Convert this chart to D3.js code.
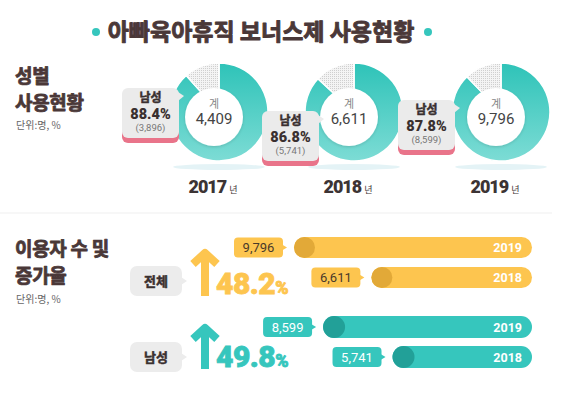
<!DOCTYPE html>
<html>
<head>
<meta charset="utf-8">
<script src="https://cdn.jsdelivr.net/npm/d3@7"></script>
<style>
  body { margin: 0; background: #fff; }
  svg { display: block; font-family: "Noto Sans CJK KR", sans-serif; }
</style>
</head>
<body>
<script>
// data
const years = ['2017', '2018', '2019'];
const totals = [4409, 6611, 9796];
const maleCounts = [3896, 5741, 8599];
const maleShares = [88.4, 86.8, 87.8];

const groupLabels = ['전체', '남성'];
const growthRates = [48.2, 49.8];
const barYears = ['2019', '2018'];
const totalBars = [9796, 6611];
const maleBars = [8599, 5741];

const width = 567, height = 396;
const brown = '#4a3838';
const teal = '#36c6bd', tealDark = '#22a098';
const yellow = '#fdc54f', yellowDark = '#e2a938';

const svg = d3.select('body').append('svg')
  .attr('width', width)
  .attr('height', height);

const defs = svg.append('defs');
const grad = defs.append('linearGradient').attr('id', 'ring')
  .attr('x1', 0).attr('y1', 0).attr('x2', 0).attr('y2', 1);
grad.append('stop').attr('offset', '0%').attr('stop-color', '#2ec3b8');
grad.append('stop').attr('offset', '100%').attr('stop-color', '#7ddcd5');

const pat = defs.append('pattern').attr('id', 'dots')
  .attr('width', 2).attr('height', 2).attr('patternUnits', 'userSpaceOnUse');
pat.append('rect').attr('width', 2).attr('height', 2).attr('fill', '#f4f4f4');
pat.append('rect').attr('width', 1).attr('height', 1).attr('fill', '#cfcfcf');

const shadow = defs.append('filter').attr('id', 'soft')
  .attr('x', '-30%').attr('y', '-30%').attr('width', '160%').attr('height', '160%');
shadow.append('feDropShadow').attr('dx', 0).attr('dy', 1).attr('stdDeviation', 1.5)
  .attr('flood-color', '#000').attr('flood-opacity', 0.15);

// heavy text helper (fake a black weight with a thin stroke)
const heavy = (sel, color, w) => sel.attr('font-weight', 'bold').attr('fill', color)
  .attr('stroke', color).attr('stroke-width', w).attr('stroke-linejoin', 'round');

// title
heavy(svg.append('text')
  .attr('x', 261).attr('y', 40)
  .attr('text-anchor', 'middle')
  .attr('font-size', 23), brown, 0.9)
  .text('아빠육아휴직 보너스제 사용현황');
svg.selectAll('.tdot').data([96, 428]).enter().append('circle')
  .attr('cx', d => d).attr('cy', 32).attr('r', 4).attr('fill', teal);

// left headings
function heading(lines, y0, gap, noteY) {
  lines.forEach((t, i) => {
    heavy(svg.append('text').attr('x', 15).attr('y', y0 + i * gap)
      .attr('font-size', 19).attr('letter-spacing', -0.3), brown, 0.8)
      .text(t);
  });
  svg.append('text').attr('x', 16).attr('y', noteY)
    .attr('font-size', 10).attr('fill', '#666').text('단위:명, %');
}
heading(['성별', '사용현황'], 83, 27, 129);
heading(['이용자 수 및', '증가율'], 256, 27, 303);

// divider
svg.append('line').attr('x1', 0).attr('x2', 552).attr('y1', 213).attr('y2', 213)
  .attr('stroke', '#efefef').attr('stroke-width', 1);

// donuts
const cx = d3.scaleOrdinal().domain(years).range([219, 354, 501]);
const cy = 112, R = 49;
const pie = d3.pie().sort(null).value(d => d);
const arc = d3.arc().innerRadius(0).outerRadius(R);
const calloutPos = [[122, 88], [262, 111], [398, 100]];

years.forEach((yr, i) => {
  const g = svg.append('g').attr('transform', `translate(${cx(yr)},${cy})`);
  g.append('ellipse').attr('cx', 0).attr('cy', 55).attr('rx', 46).attr('ry', 3)
    .attr('fill', '#e4f3f6');
  g.selectAll('path')
    .data(pie([maleCounts[i], totals[i] - maleCounts[i]]))
    .enter().append('path')
    .attr('d', arc)
    .attr('fill', (d, j) => j === 0 ? 'url(#ring)' : 'url(#dots)')
    .attr('stroke', '#fff').attr('stroke-width', 1.5);
  g.append('circle').attr('cx', -5).attr('cy', 5).attr('r', 29)
    .attr('fill', '#fff').attr('filter', 'url(#soft)');
  g.append('text').attr('x', -5).attr('y', -4).attr('text-anchor', 'middle')
    .attr('font-size', 11).attr('fill', '#888').text('계');
  g.append('text').attr('x', -5).attr('y', 12).attr('text-anchor', 'middle')
    .attr('font-family', 'Roboto, sans-serif')
    .attr('font-size', 15).attr('fill', '#444').text(d3.format(',')(totals[i]));

  // year label
  const yl = svg.append('text').attr('x', cx(yr) - 6).attr('y', 193)
    .attr('text-anchor', 'middle').attr('fill', '#3c3434');
  yl.append('tspan').attr('font-family', 'Roboto, sans-serif').attr('font-weight', 900)
    .attr('font-size', 18).attr('letter-spacing', -1).text(yr);
  yl.append('tspan').attr('font-size', 9).attr('dx', 3).text('년');

  // callout
  const [bx, by] = calloutPos[i];
  const bw = 57, bh = 50;
  const c = svg.append('g').attr('transform', `translate(${bx},${by})`);
  c.append('rect').attr('x', 0).attr('y', 5).attr('width', bw).attr('height', bh)
    .attr('rx', 6).attr('fill', '#e9748a');
  c.append('rect').attr('width', bw).attr('height', bh)
    .attr('rx', 6).attr('fill', '#ebebeb');
  c.append('path').attr('d', `M${bw - 1},4 L${bw + 5},8 L${bw - 1},13 Z`).attr('fill', '#ebebeb');
  heavy(c.append('text').attr('x', bw / 2).attr('y', 14).attr('text-anchor', 'middle')
    .attr('font-size', 12), '#3a3030', 0.5).text('남성');
  c.append('text').attr('x', bw / 2).attr('y', 31).attr('text-anchor', 'middle')
    .attr('font-family', 'Roboto, sans-serif').attr('font-weight', 900)
    .attr('font-size', 14.5).attr('fill', '#3a3030').text(maleShares[i] + '%');
  c.append('text').attr('x', bw / 2).attr('y', 43).attr('text-anchor', 'middle')
    .attr('font-family', 'Roboto, sans-serif')
    .attr('font-size', 9.5).attr('fill', '#777').text(`(${d3.format(',')(maleCounts[i])})`);
});

// growth bars
const x = d3.scaleLinear().domain([0, d3.max(totalBars)]).range([532, 294]);
const groups = [
  { label: groupLabels[0], rate: growthRates[0], vals: totalBars, color: yellow, dark: yellowDark,
    textColor: '#4a3a2a', rows: [237, 267], h: 21, arrowTop: 250, arrowBottom: 296, labelY: 281 },
  { label: groupLabels[1], rate: growthRates[1], vals: maleBars, color: teal, dark: tealDark,
    textColor: '#fff', rows: [316, 346], h: 22, arrowTop: 325, arrowBottom: 369, labelY: 357 }
];

groups.forEach(gr => {
  // category box
  const lb = svg.append('g').attr('transform', `translate(130,${gr.labelY - 15})`);
  lb.append('rect').attr('width', 52).attr('height', 30).attr('rx', 7).attr('fill', '#ececec');
  lb.append('path').attr('d', 'M51,11 L57,15 L51,19 Z').attr('fill', '#ececec');
  heavy(lb.append('text').attr('x', 26).attr('y', 20).attr('text-anchor', 'middle')
    .attr('font-size', 13), '#3a3030', 0.5).text(gr.label);

  // arrow
  const ax = 205;
  svg.append('path')
    .attr('d', `M${ax - 12},${gr.arrowTop + 14} L${ax},${gr.arrowTop + 3} L${ax + 12},${gr.arrowTop + 14} M${ax},${gr.arrowTop + 3} L${ax},${gr.arrowBottom}`)
    .attr('fill', 'none').attr('stroke', gr.color).attr('stroke-width', 8)
    .attr('stroke-linejoin', 'round');

  const pt = svg.append('text').attr('x', 216).attr('y', gr.arrowBottom - 2)
    .attr('font-family', 'Roboto, sans-serif').attr('font-weight', 900)
    .attr('fill', gr.color).attr('stroke', gr.color).attr('stroke-width', 0.8);
  pt.append('tspan').attr('font-size', 30).attr('letter-spacing', -0.5).text(gr.rate);
  pt.append('tspan').attr('font-size', 18).text('%');

  gr.vals.forEach((v, k) => {
    const y = gr.rows[k], h = gr.h;
    const x0 = x(v);
    svg.append('rect').attr('x', x0).attr('y', y).attr('width', 532 - x0).attr('height', h)
      .attr('rx', h / 2).attr('fill', gr.color);
    svg.append('circle').attr('cx', x0 + h / 2).attr('cy', y + h / 2).attr('r', h / 2)
      .attr('fill', gr.dark);
    svg.append('text').attr('x', 522).attr('y', y + h / 2 + 4.5).attr('text-anchor', 'end')
      .attr('font-family', 'Roboto, sans-serif').attr('font-weight', 700)
      .attr('font-size', 12.5).attr('fill', '#fff').text(barYears[k]);

    // value tag
    const tw = 49, th = 20, tx = x0 - 11 - tw, ty = y + (h - th) / 2;
    svg.append('rect').attr('x', tx).attr('y', ty).attr('width', tw).attr('height', th)
      .attr('rx', 4).attr('fill', gr.color);
    svg.append('path').attr('d', `M${tx + tw - 1},${ty + 7} L${tx + tw + 4},${ty + 10} L${tx + tw - 1},${ty + 13} Z`)
      .attr('fill', gr.color);
    svg.append('text').attr('x', tx + tw / 2).attr('y', ty + 14.5).attr('text-anchor', 'middle')
      .attr('font-family', 'Roboto, sans-serif').attr('font-size', 13)
      .attr('fill', gr.textColor).text(d3.format(',')(v));
  });
});
</script>
</body>
</html>
